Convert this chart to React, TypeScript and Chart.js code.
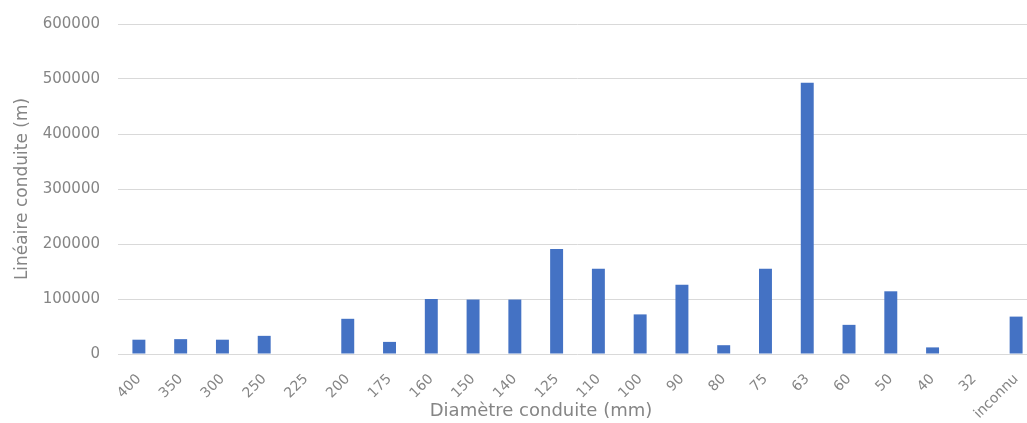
import React, { useEffect, useRef } from "react";
import { Chart, registerables } from "chart.js";

Chart.register(...registerables);

const categories: string[] = [
  "400", "350", "300", "250", "225", "200", "175", "160", "150", "140", "125",
  "110", "100", "90", "80", "75", "63", "60", "50", "40", "32", "inconnu",
];

const lengths: number[] = [
  26000, 27000, 26000, 33000, 0, 64000, 22000, 100000, 99000, 99000, 191000,
  155000, 72000, 126000, 16000, 155000, 493000, 53000, 114000, 12000, 0, 68000,
];

const yMax = 600000;
const yStep = 100000;

const xTitle = "Diamètre conduite (mm)";
const yTitle = "Linéaire conduite (m)";

const FONT = "'DejaVu Sans', sans-serif";
const TEXT = "#858585";

const xTitlePlugin = {
  id: "xTitleText",
  afterDraw(chart: any) {
    const ctx = chart.ctx;
    ctx.save();
    ctx.fillStyle = TEXT;
    ctx.font = `18px ${FONT}`;
    ctx.textAlign = "center";
    ctx.textBaseline = "middle";
    ctx.fillText(xTitle, 541, 411);
    ctx.restore();
  },
};

export default function App() {
  const ref = useRef<HTMLCanvasElement | null>(null);

  useEffect(() => {
    if (!ref.current) return;
    const chart = new Chart(ref.current, {
      type: "bar",
      data: {
        labels: categories,
        datasets: [
          {
            data: lengths,
            backgroundColor: "#4472C4",
            borderWidth: 0,
            barPercentage: 0.31,
            categoryPercentage: 1,
          },
        ],
      },
      plugins: [xTitlePlugin],
      options: {
        animation: false,
        responsive: true,
        maintainAspectRatio: false,
        layout: { padding: { left: 0, right: 0, top: 24, bottom: 2 } },
        plugins: {
          legend: { display: false },
          tooltip: { enabled: false },
        },
        scales: {
          x: {
            grid: { display: false },
            border: { display: false },
            afterFit: (scale: any) => {
              scale.height = 67;
            },
            ticks: {
              color: TEXT,
              font: { family: FONT, size: 14 },
              minRotation: 45,
              maxRotation: 45,
              autoSkip: false,
              padding: 9,
            },
          },
          y: {
            min: 0,
            max: yMax,
            afterFit: (scale: any) => {
              scale.width = 118;
              scale.paddingTop = 0;
              scale.paddingBottom = 0;
            },
            grid: { color: "#d9d9d9", drawTicks: false, lineWidth: 1 },
            border: { display: false },
            ticks: {
              stepSize: yStep,
              color: TEXT,
              font: { family: FONT, size: 15 },
              padding: 18,
              callback: (v: any) => String(v),
            },
            title: {
              display: true,
              text: yTitle,
              color: TEXT,
              font: { family: FONT, size: 17 },
              padding: { top: 12, bottom: 0 },
            },
          },
        },
      },
    });
    return () => chart.destroy();
  }, []);

  return (
    <div
      style={{
        position: "fixed",
        left: 0,
        top: 0,
        width: 1027,
        height: 423,
        overflow: "hidden",
        background: "#fff",
      }}
    >
      <div style={{ position: "relative", width: 1037, height: 423 }}>
        <canvas ref={ref} />
      </div>
    </div>
  );
}
